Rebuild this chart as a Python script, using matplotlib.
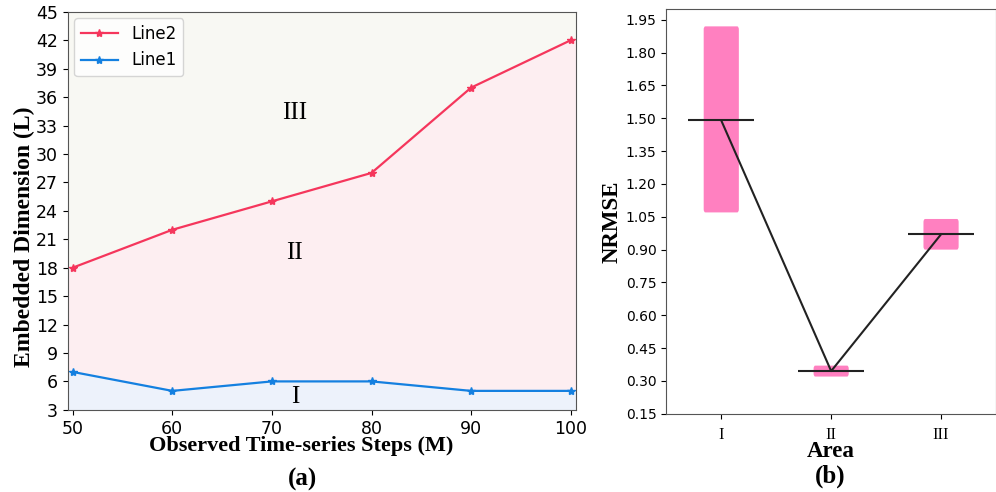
import numpy as np
import matplotlib.pyplot as plt
from matplotlib.patches import FancyBboxPatch

# Panel (a) data
steps = [50, 60, 70, 80, 90, 100]
line1 = [7, 5, 6, 6, 5, 5]
line2 = [18, 22, 25, 28, 37, 42]

# Panel (b) data
areas = [1, 2, 3]
area_labels = ["I", "II", "III"]
nrmse_low = [1.07, 0.32, 0.90]
nrmse_high = [1.92, 0.37, 1.04]
nrmse_mean = [1.49, 0.345, 0.97]

serif = "Liberation Serif"

fig = plt.figure(figsize=(9.96, 4.92), dpi=100)

# ---- (a) ----
ax1 = fig.add_axes([0.068, 0.167, 0.510, 0.809])
xlo, xhi = 49.5, 100.5
# extend the shaded bands to the axes edges
xf = [xlo] + steps + [xhi]
l1f = [line1[0]] + line1 + [line1[-1]]
l2f = [line2[0]] + line2 + [line2[-1]]
ax1.fill_between(xf, 3, l1f, color="#edf2fb", lw=0)
ax1.fill_between(xf, l1f, l2f, color="#fdeef1", lw=0)
ax1.fill_between(xf, l2f, 45, color="#f8f8f3", lw=0)
ax1.plot(steps, line2, color="#f5365c", marker="*", ms=6, lw=1.6, label="Line2")
ax1.plot(steps, line1, color="#1480e0", marker="*", ms=6, lw=1.6, label="Line1")
ax1.set_xlim(xlo, xhi)
ax1.set_ylim(3, 45)
ax1.set_yticks(np.arange(3, 46, 3))
ax1.set_xticks(steps)
ax1.tick_params(labelsize=12.5)
for s in ax1.spines.values():
    s.set_color("#555555")
ax1.text(72.3, 34.3, "III", family=serif, fontsize=18, ha="center", va="center")
ax1.text(72.3, 19.5, "II", family=serif, fontsize=18, ha="center", va="center")
ax1.text(72.3, 4.4, "I", family=serif, fontsize=18, ha="center", va="center")
ax1.set_xlabel("Observed Time-series Steps (M)", family=serif, fontweight="bold",
               fontsize=16, va="center")
ax1.xaxis.set_label_coords(0.46, -0.092)
ax1.set_ylabel("Embedded Dimension (L)", family=serif, fontweight="bold",
               fontsize=17, va="center")
ax1.yaxis.set_label_coords(-0.086, 0.435)
ax1.legend(loc="upper left", fontsize=12, handlelength=2.2, borderaxespad=0.4)
fig.text(0.304, 0.026, "(a)", family=serif, fontweight="bold", fontsize=18,
         ha="center", va="center")

# ---- (b) ----
ax2 = fig.add_axes([0.669, 0.159, 0.331, 0.823])
bw = 0.32
for a, lo, hi in zip(areas, nrmse_low, nrmse_high):
    ax2.add_patch(FancyBboxPatch((a - bw / 2, lo), bw, hi - lo,
                                 boxstyle="round,pad=0,rounding_size=0.015",
                                 mutation_aspect=1, color="#ff80c0", lw=0))
ax2.hlines(nrmse_mean, [a - 0.3 for a in areas], [a + 0.3 for a in areas],
           color="#222222", lw=1.5)
ax2.plot(areas, nrmse_mean, color="#222222", lw=1.5)
ax2.set_xlim(0.5, 3.5)
ax2.set_ylim(0.15, 2.0)
yt = np.arange(0.15, 1.96, 0.15)
ax2.set_yticks(yt)
ax2.set_yticklabels([f"{v:.2f}" for v in yt])
ax2.set_xticks(areas)
ax2.set_xticklabels(area_labels, family=serif, fontsize=12)
ax2.tick_params(axis="y", labelsize=10)
ax2.tick_params(axis="x", pad=6)
for s in ax2.spines.values():
    s.set_color("#555555")
ax2.set_xlabel("Area", family=serif, fontweight="bold", fontsize=16.5, va="center")
ax2.xaxis.set_label_coords(0.5, -0.094)
ax2.set_ylabel("NRMSE", family=serif, fontweight="bold", fontsize=16.5, va="center")
ax2.yaxis.set_label_coords(-0.166, 0.474)
fig.text(0.834, 0.031, "(b)", family=serif, fontweight="bold", fontsize=18,
         ha="center", va="center")

fig.savefig("out.png", dpi=100)
